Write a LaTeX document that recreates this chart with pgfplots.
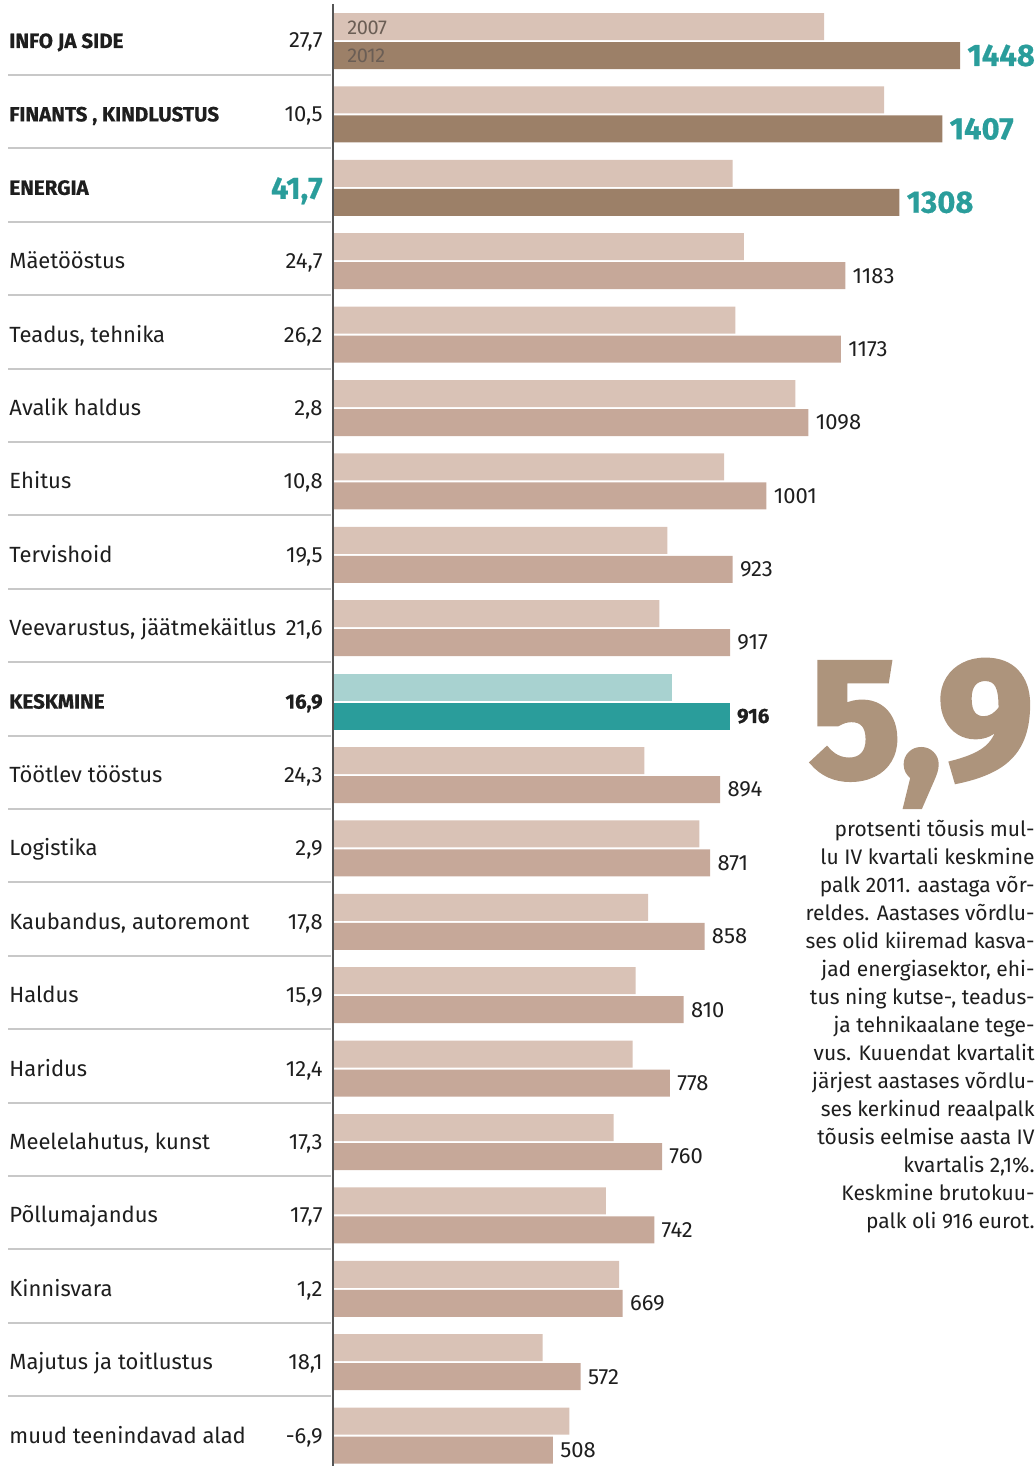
\documentclass[border=0pt]{standalone}
\usepackage{pgfplots}
\pgfplotsset{compat=1.18}
\usepackage{fontspec}
\setmainfont{Fira Sans}
\newfontfamily\heavyfont{Fira Sans}[UprightFont=*-Bold, BoldFont=*-Bold, FakeBold=2.5]
\newfontfamily\blackfont{Fira Sans}[FakeBold=0.6]
\definecolor{cA}{HTML}{D9C2B6}
\definecolor{cB}{HTML}{C6A899}
\definecolor{cTop}{HTML}{9C8068}
\definecolor{cKA}{HTML}{A8D2D0}
\definecolor{cKB}{HTML}{2A9D9B}
\definecolor{teal}{HTML}{2A9D9B}
\definecolor{c59}{HTML}{AD947C}
\definecolor{sepc}{HTML}{C8C8C8}
\definecolor{axc}{HTML}{555555}
\definecolor{legc}{HTML}{6B5E55}
\definecolor{txt}{HTML}{1E1E1E}
\newcommand\lbl{\fontsize{11}{13}\selectfont}
\newcommand\blbl{\fontsize{10.3}{12}\selectfont\blackfont\bfseries}
\newcommand\tlbl{\fontsize{15.5}{18}\selectfont\blackfont\bfseries}
\newcommand\lab[3]{%
  \node[anchor=base west,font=\lbl,text=txt,inner sep=0] at (9,{41+73.4*#1+7.5}) {#2};
  \node[anchor=base east,font=\lbl,text=txt,inner sep=0] at (323,{41+73.4*#1+7.5}) {#3};}
\newcommand\blab[3]{%
  \node[anchor=base west,font=\blbl,text=txt,inner sep=0] at (9,{41+73.4*#1+7}) {#2};
  \node[anchor=base east,font=\blbl,text=txt,inner sep=0] at (323,{41+73.4*#1+7}) {#3};}
\newcommand\para[2]{\node[anchor=base east,font=\fontsize{10.5}{12}\selectfont,text=txt,inner sep=0] at (1035,{836+28*#1}) {#2};}
\begin{document}
\begin{tikzpicture}
\useasboundingbox (0pt,0pt) rectangle (517.5pt,-733pt);
\begin{axis}[at={(166.5pt,0pt)}, anchor=north west, scale only axis,
  width=351pt, height=733pt, xmin=0, xmax=1621.2, ymin=0, ymax=1466,
  y dir=reverse, hide axis, clip=false, xbar, bar width=27, bar shift=0pt,
  /pgf/number format/assume math mode=true,
  /pgf/number format/1000 sep={},
  nodes near coords style={anchor=west, inner sep=0pt, xshift=3.5pt, text=txt, font=\lbl}]
% 2007 bars (normal)
\addplot[fill=cA, draw=none] coordinates {
(1134,26.5) (1273,99.9) (923,173.3) (949,246.7) (929,320.1) (1068,393.5)
(903,466.9) (772,540.3) (754,613.7) (719,760.5) (846,833.9) (728,907.3)
(699,980.7) (692,1054.1) (648,1127.5) (630,1200.9) (661,1274.3) (484,1347.7) (546,1421.1)};
% 2007 average
\addplot[fill=cKA, draw=none] coordinates {(784,687.1)};
% 2012 top three
\addplot[fill=cTop, draw=none, nodes near coords,
  nodes near coords style={font=\tlbl, text=teal}] coordinates {
(1448,55.5) (1407,128.9) (1308,202.3)};
% 2012 normal
\addplot[fill=cB, draw=none, nodes near coords] coordinates {
(1183,275.7) (1173,349.1) (1098,422.5) (1001,495.9) (923,569.3) (917,642.7)
(894,789.5) (871,862.9) (858,936.3) (810,1009.7) (778,1083.1) (760,1156.5)
(742,1229.9) (669,1303.3) (572,1376.7) (508,1450.1)};
% 2012 average
\addplot[fill=cKB, draw=none, nodes near coords,
  nodes near coords style={font=\blbl}] coordinates {(916,716.1)};
\end{axis}
\begin{scope}[x=0.5pt,y=-0.5pt]
% axis line
\draw[axc, line width=0.8pt] (333,4) -- (333,1466);
% separators
\foreach \k in {0,...,18} \draw[sepc, line width=1pt] (8,{75+73.4*\k}) -- (331,{75+73.4*\k});
% legend in first bars
\node[anchor=west, font=\fontsize{10}{10}\selectfont\addfontfeatures{LetterSpace=-2}, text=legc, inner sep=0] at (347,27.5) {2007};
\node[anchor=west, font=\fontsize{10}{10}\selectfont\addfontfeatures{LetterSpace=-2}, text=legc, inner sep=0] at (347,56) {2012};
% left labels
\blab{0}{INFO JA SIDE}{\mdseries\normalfont\lbl 27,7}
\blab{1}{FINANTS , KINDLUSTUS}{\mdseries\normalfont\lbl 10,5}
\node[anchor=base west,font=\blbl,text=txt,inner sep=0] at (9,{41+73.4*2+7}) {ENERGIA};
\node[anchor=base east,font=\tlbl,text=teal,inner sep=0] at (323,{41+73.4*2+11}) {41,7};
\lab{3}{Mäetööstus}{24,7}
\lab{4}{Teadus, tehnika}{26,2}
\lab{5}{Avalik haldus}{2,8}
\lab{6}{Ehitus}{10,8}
\lab{7}{Tervishoid}{19,5}
\lab{8}{Veevarustus, jäätmekäitlus}{21,6}
\blab{9}{KESKMINE}{16,9}
\lab{10}{Töötlev tööstus}{24,3}
\lab{11}{Logistika}{2,9}
\lab{12}{Kaubandus, autoremont}{17,8}
\lab{13}{Haldus}{15,9}
\lab{14}{Haridus}{12,4}
\lab{15}{Meelelahutus, kunst}{17,3}
\lab{16}{Põllumajandus}{17,7}
\lab{17}{Kinnisvara}{1,2}
\lab{18}{Majutus ja toitlustus}{18,1}
\lab{19}{muud teenindavad alad}{-6,9}
% big number
\node[anchor=base east, inner sep=0, text=c59, font=\fontsize{85}{85}\selectfont\heavyfont] at (1033.5,777) {5,9};
% paragraph
\para{0}{protsenti tõusis mul-}
\para{1}{lu IV kvartali keskmine}
\para{2}{palk 2011. aastaga võr-}
\para{3}{reldes. Aastases võrdlu-}
\para{4}{ses olid kiiremad kasva-}
\para{5}{jad energiasektor, ehi-}
\para{6}{tus ning kutse-, teadus-}
\para{7}{ja tehnikaalane tege-}
\para{8}{vus. Kuuendat kvartalit}
\para{9}{järjest aastases võrdlu-}
\para{10}{ses kerkinud reaalpalk}
\para{11}{tõusis eelmise aasta IV}
\para{12}{kvartalis 2,1\%.}
\para{13}{Keskmine brutokuu-}
\para{14}{palk oli 916 eurot.}
\end{scope}
\end{tikzpicture}
\end{document}
